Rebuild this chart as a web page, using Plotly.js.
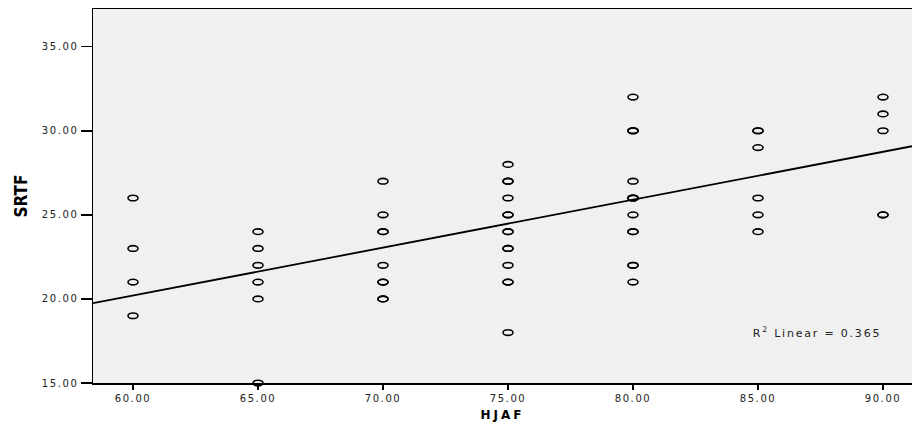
<!DOCTYPE html>
<html>
<head>
<meta charset="utf-8">
<script src="https://cdn.plot.ly/plotly-3.0.1.min.js"></script>
<style>
html,body{margin:0;padding:0;background:#fff;}
#chart{width:912px;height:428px;}
#chart .xtick text, #chart .ytick text{letter-spacing:1.6px;}
#chart .annotation-text{letter-spacing:1.8px;}
#chart .g-xtitle text{letter-spacing:3px;}
</style>
</head>
<body>
<div id="chart"></div>
<script>
const hjaf = [
  60,60,60,60,
  65,65,65,65,65,65,
  70,70,70,70,70,70,70,70,70,
  75,75,75,75,75,75,75,75,75,75,75,75,75,75,
  80,80,80,80,80,80,80,80,80,80,80,80,80,80,
  85,85,85,85,85,85,
  90,90,90,90,90
];
const srtf = [
  26,23,21,19,
  24,23,22,21,20,15,
  27,25,24,24,22,21,21,20,20,
  28,27,27,26,25,25,24,24,23,23,22,21,21,18,
  32,30,30,27,26,26,25,24,24,22,22,21,30,26,
  30,30,29,26,25,24,
  32,31,30,25,25
];
// linear fit line
const fitIntercept = 3.1;
const fitSlope = 0.285;
const fitLabel = "R<sup>2</sup> Linear = 0.365";

const xTicks = [60,65,70,75,80,85,90];
const xTickText = ["60.00","65.00","70.00","75.00","80.00","85.00","90.00"];
const yTicks = [15,20,25,30,35];
const yTickText = ["15.00","20.00","25.00","30.00","35.00"];
const xRange = [58.4, 91.16];
const yRange = [15, 37.24];

const fitX = xRange.slice();
const fitY = fitX.map(x => fitIntercept + fitSlope*x);

const tickFont = {family: "DejaVu Sans, sans-serif", size: 10, color: "#222"};
Plotly.newPlot("chart", [
  {x: hjaf, y: srtf, type: "scatter", mode: "markers", cliponaxis: false,
   marker: {symbol: "circle-open", size: 8, color: "#000", line: {width: 1.6, color: "#000"}},
   showlegend: false},
  {x: fitX, y: fitY, type: "scatter", mode: "lines",
   line: {color: "#000", width: 1.8}, showlegend: false}
], {
  width: 912, height: 428,
  margin: {l: 93, r: 0, t: 9, b: 45},
  paper_bgcolor: "#fff", plot_bgcolor: "#f0f0f0",
  showlegend: false,
  xaxis: {range: xRange, tickvals: xTicks, ticktext: xTickText,
    ticks: "outside", ticklen: 5, tickwidth: 1.5, tickcolor: "#000",
    showline: true, linecolor: "#000", linewidth: 1.5, mirror: true,
    showgrid: false, zeroline: false, tickfont: tickFont,
    title: {text: "<b>HJAF</b>", font: {family: "DejaVu Sans, sans-serif", size: 12, color: "#000"}, standoff: 8}},
  yaxis: {range: yRange, tickvals: yTicks, ticktext: yTickText,
    ticks: "outside", ticklen: 11, tickwidth: 1.5, tickcolor: "#000",
    showline: true, linecolor: "#000", linewidth: 1.5, mirror: true,
    showgrid: false, zeroline: false, tickfont: tickFont, ticklabelstandoff: 0,
    title: {text: "<b>SRTF</b>", font: {family: "Liberation Sans Narrow, DejaVu Sans Condensed, sans-serif", size: 17, color: "#000"}, standoff: 18}},
  annotations: [{x: 87.36, y: 17.98, xref: "x", yref: "y", text: fitLabel, showarrow: false,
    font: {family: "DejaVu Sans, sans-serif", size: 11, color: "#222"}}]
}, {staticPlot: true}).then(gd => {
  // draw the open markers as flat ellipses like the original
  gd.querySelectorAll(".scatterlayer .trace:first-child .point").forEach(p => {
    p.setAttribute("d", "M5,0A5,2.8 0 1,1 -5,0A5,2.8 0 1,1 5,0Z");
  });
});
</script>
</body>
</html>
